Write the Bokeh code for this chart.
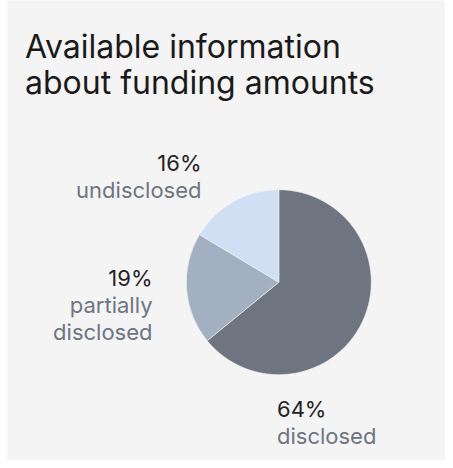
import math
from bokeh.plotting import figure
from bokeh.models import Range1d, ColumnDataSource
from bokeh.core.properties import value
from bokeh.embed import file_html
from bokeh.resources import INLINE

# ---- data ----
categories = ["disclosed", "partially\ndisclosed", "undisclosed"]
shares = [64.1, 19.5, 16.4]          # percent
share_labels = ["64%", "19%", "16%"]
colors = ["#6e7581", "#a3b0c2", "#d0dff4"]
title_lines = ["Available information", "about funding amounts"]

W, H = 445, 460
LEFT = 7
BG = "#f4f4f4"
FONT = "Inter"

def yu(y_down):
    return H - y_down

p = figure(width=W, height=H, output_backend="svg", toolbar_location=None,
           x_range=Range1d(LEFT, W), y_range=Range1d(0, H),
           min_border=0, min_border_left=LEFT,
           background_fill_color=BG, border_fill_color="white")
p.axis.visible = False
p.grid.visible = False
p.outline_line_color = None

# pie
cx, cy, r = 278.3, yu(281.7), 92.5
total = sum(shares)
starts, ends = [], []
acc = 0.0
for s in shares:
    starts.append(math.pi / 2 - acc / total * 2 * math.pi)
    acc += s
    ends.append(math.pi / 2 - acc / total * 2 * math.pi)
src = ColumnDataSource(dict(start=starts, end=ends, color=colors))
p.wedge(x=cx, y=cy, radius=r, start_angle="start", end_angle="end",
        direction="clock", fill_color="color", line_color=BG, line_width=0.6,
        source=src)

# title
p.text(x=[24.5, 24.5], y=[yu(46), yu(81.5)], text=title_lines,
       text_font=value(FONT), text_font_size="32px", text_color="#1a1a1a",
       text_baseline="alphabetic", text_align="left")

# labels: (x, baseline y of pct line, align)
label_pos = [(276.5, 408, "left"), (152, 277, "right"), (201, 162, "right")]
LH = 27
for (lx, ly, al), pct, cat in zip(label_pos, share_labels, categories):
    p.text(x=[lx], y=[yu(ly)], text=[pct], text_font=value(FONT),
           text_font_size="22px", text_color="#222222",
           text_baseline="alphabetic", text_align=al)
    lines = cat.split("\n")
    p.text(x=[lx] * len(lines), y=[yu(ly + LH * (i + 1)) for i in range(len(lines))],
           text=lines, text_font=value(FONT), text_font_size="22px",
           text_color="#6e7581", text_baseline="alphabetic", text_align=al)

open("out.html", "w").write(file_html(p, INLINE))
